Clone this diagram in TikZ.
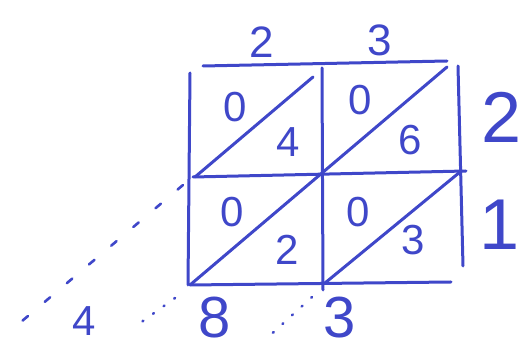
\documentclass[tikz,border=0pt]{standalone}
\usepackage{fontspec}
\setmainfont{Liberation Sans}
\usepackage{tikz}
\usetikzlibrary{calc}
\definecolor{inkc}{HTML}{3F47C9}
\tikzset{
  pen/.style={inkc,line width=3pt,line cap=round},
  dig/.style={inkc,inner sep=0pt,font=\fontsize{#1}{#1}\selectfont},
  dig/.default=42,
  dotline/.style={inkc,line width=2.6pt,line cap=round,dash pattern=on 1pt off 12pt},
  dashline/.style={inkc,line width=2.6pt,line cap=round,dash pattern=on 7pt off 22pt}
}
\begin{document}
\begin{tikzpicture}[x=1pt,y=-1pt]
\useasboundingbox (0,0) rectangle (531,352);
% grid corners
\coordinate (tl) at (203,66);   \coordinate (tr) at (447,61);
\coordinate (lt) at (190,73);   \coordinate (lb) at (188,285);
\coordinate (rt) at (458,66);   \coordinate (rb) at (463,266);
\coordinate (mt) at (322,68);   \coordinate (mb) at (323,290);
\coordinate (ml) at (193,177);  \coordinate (mr) at (466,171);
\coordinate (bl) at (190,285);  \coordinate (br) at (451,282);
\coordinate (c) at (322,173);
% frame and cross
\draw[pen] (tl)--(tr) (lt)--(lb) (rt)--(rb) (mt)--(mb) (ml)--(mr) (bl)--(br);
% diagonals
\draw[pen] (195,177)--(313,77) (c)--(447,67) (bl)--(c) (325,283)--(460,172);
% carries
\draw[dashline] (183,185)--(15,327);
\draw[dotline] (175,298)--(136,326);
\draw[dotline] (312,297)--(265,340);
% factors
\node[dig=44] (f1) at (262,42) {2};
\node[dig=44] (f2) at (380,40) {3};
\node[dig=72] (g1) at (502,117) {2};
\node[dig=72] (g2) at (500,225) {1};
% cells
\foreach \n/\x/\y/\d in {a/235/107/0,b/288/142/4,c/360/100/0,d/410/140/6,
                         e/232/212/0,f/287/250/2,g/358/212/0,h/413/240/3}
  \node[dig] (cell\n) at (\x,\y) {\d};
% result
\node[dig=42] (r1) at (84,321) {4};
\node[dig=58] (r2) at (215,318) {8};
\node[dig=58] (r3) at (340,318) {3};
\end{tikzpicture}
\end{document}
